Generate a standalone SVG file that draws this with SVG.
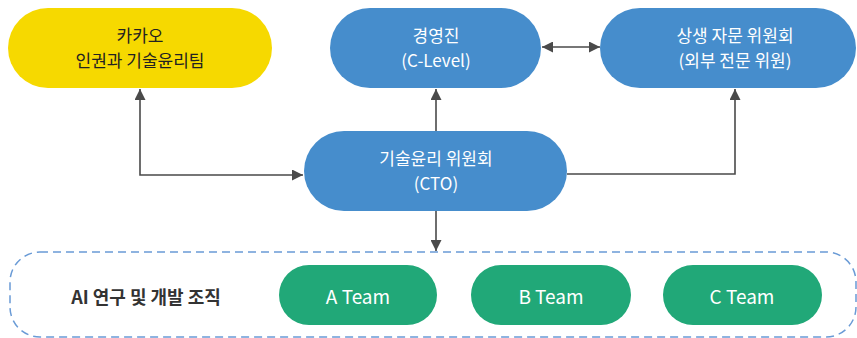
<svg xmlns="http://www.w3.org/2000/svg" width="857" height="338" viewBox="0 0 857 338">
<defs>
<marker id="arr" viewBox="0 0 10 10" refX="10" refY="5" markerWidth="11" markerHeight="11" markerUnits="userSpaceOnUse" orient="auto-start-reverse">
<path d="M0,0 L10,5 L0,10 z" fill="#4a4a4a"/>
</marker>
</defs>
<style>
.t{font-family:"Noto Sans CJK KR","Noto Sans",sans-serif;font-size:17px;text-anchor:middle}
.w{fill:#ffffff}
.d{fill:#222222}
.blue{fill:#468dcc}
.green{fill:#21a878}
.yellow{fill:#f6d900}
.c{fill:none;stroke:#4a4a4a;stroke-width:1.6}
.team{font-family:"Noto Sans CJK KR","Noto Sans",sans-serif;font-size:19px;text-anchor:middle;dominant-baseline:central;fill:#ffffff}
</style>
<rect x="10" y="252" width="846" height="85" rx="30" fill="none" stroke="#6a9bd6" stroke-width="1.5" stroke-dasharray="8,5"/>
<text x="146" y="296" style="font-family:'Noto Sans CJK KR','Noto Sans',sans-serif;font-size:18px;font-weight:bold;text-anchor:middle;dominant-baseline:central;fill:#333333">AI 연구 및 개발 조직</text>
<g id="connectors">
<path class="c" d="M140,89 V175 H303" marker-start="url(#arr)" marker-end="url(#arr)"/>
<path class="c" d="M436,131 V89" marker-end="url(#arr)"/>
<path class="c" d="M567,174 H735 V89" marker-end="url(#arr)"/>
<path class="c" d="M542,47 H600" marker-start="url(#arr)" marker-end="url(#arr)"/>
<path class="c" d="M436,211 V251" marker-end="url(#arr)"/>
</g>
<g id="kakao">
<rect class="yellow" x="8" y="8" width="264" height="80" rx="40"/>
<text class="t d" x="140" y="41.5"><tspan x="140">카카오</tspan><tspan x="140" dy="25">인권과 기술윤리팀</tspan></text>
</g>
<g id="clevel">
<rect class="blue" x="330" y="8" width="211" height="80" rx="40"/>
<text class="t w" x="436" y="41.5"><tspan x="436">경영진</tspan><tspan x="436" dy="25">(C-Level)</tspan></text>
</g>
<g id="advisory">
<rect class="blue" x="600" y="8" width="256" height="80" rx="40"/>
<text class="t w" x="735" y="41.5"><tspan x="735">상생 자문 위원회</tspan><tspan x="735" dy="25">(외부 전문 위원)</tspan></text>
</g>
<g id="cto">
<rect class="blue" x="304" y="131" width="263" height="80" rx="40"/>
<text class="t w" x="436" y="164.5"><tspan x="436">기술윤리 위원회</tspan><tspan x="436" dy="25">(CTO)</tspan></text>
</g>
<g id="teamA">
<rect class="green" x="279" y="265" width="158" height="60" rx="30"/>
<text class="team" x="358" y="295">A Team</text>
</g>
<g id="teamB">
<rect class="green" x="471" y="265" width="160" height="60" rx="30"/>
<text class="team" x="551" y="295">B Team</text>
</g>
<g id="teamC">
<rect class="green" x="663" y="265" width="159" height="60" rx="30"/>
<text class="team" x="742" y="295">C Team</text>
</g>
</svg>
